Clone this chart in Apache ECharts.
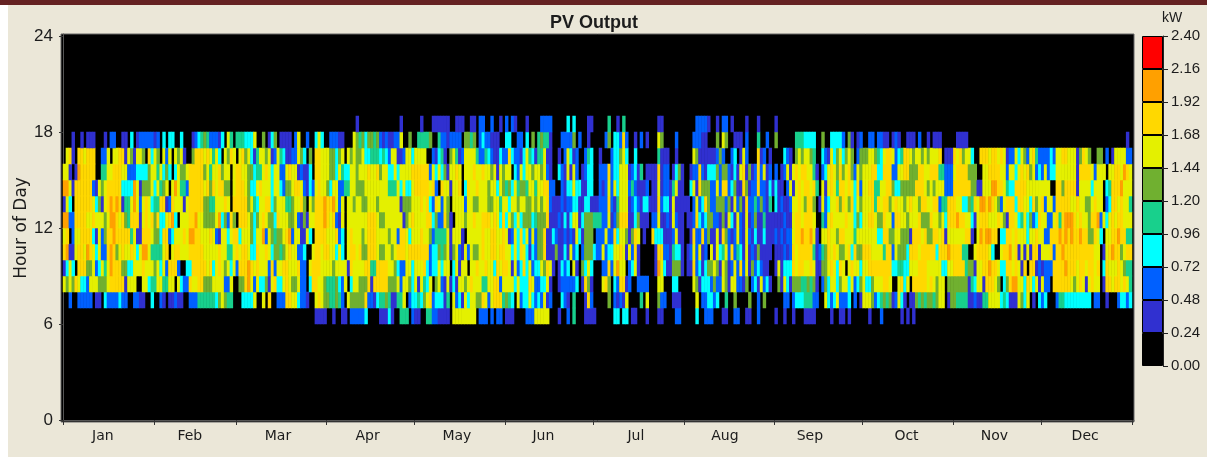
<!DOCTYPE html>
<html>
<head>
<meta charset="utf-8">
<title>PV Output</title>
<script src="https://cdn.jsdelivr.net/npm/echarts@6/dist/echarts.min.js"></script>
<style>
  html, body { margin: 0; padding: 0; background: #fff; }
  #main { width: 1207px; height: 457px; }
</style>
</head>
<body>
<div id="main"></div>
<script>
var months = ['Jan', 'Feb', 'Mar', 'Apr', 'May', 'Jun', 'Jul', 'Aug', 'Sep', 'Oct', 'Nov', 'Dec'];
var monthDays = [31, 28, 31, 30, 31, 30, 31, 31, 30, 31, 30, 31];
var monthTicks = [0, 31, 59, 90, 120, 151, 181, 212, 243, 273, 304, 334, 365];
var monthLabelDays = [13.6, 43.3, 73.4, 104, 134.5, 164, 195.6, 226, 255, 288, 318, 349];
var hourTicks = [0, 6, 12, 18, 24];
var binWidth = 0.24;
// legend bins, bottom to top
var binColors = ['#000000', '#3030d0', '#0060ff', '#00ffff', '#18d08c', '#70b030', '#e4f000', '#ffd800', '#ffa000', '#ff0000'];

// one list per hour of day, one string per month, each digit is the legend bin of one day
var hour18 = ['', '', '',
  '0000000000 1000000000 0000010000', '0010001111 1100111001 10220020010', '2021000100 0022220000 0303000011',
  '0000040010 4000000000 00110000000', '0000222210 0102201000 01000100000', '1000000000 0000000000 0000000000',
  '', '', ''];
var hour17 = ['0001001011 1000102200 11030122222', '1203033003 0001234542 22130640', '4443336005 0135011110 26002003630',
  '0222110006 5453554521 2112260050', '0444450042 2122220554 50232211100', '3300220305 0454410002 2225020010',
  '0000250332 7200102010 00650000200', '0002221100 0506500111 02000400200', '5000000444 3333005003 3332051012',
  '0022022110 1210011102 00101110000', '0111100000 0000000000 0000000000', '0000000000 0000000000 00000000010'];
var hour16 = ['0671077677 7002260667 71651665073', '6506260656 1005777676 46306576', '0675631466 5612643112 26530507766',
  '6553560656 5563344434 3266112663', '6666002134 1056412666 64224321132', '2732213643 1446110010 2631200243',
  '0010002335 6300300000 00411100100', '0006511111 1252002301 62000712010', '0003210565 6654003216 3563565025',
  '5566543677 6234776566 56566670111', '7675663007 7767767612 2636526742', '2223266776 6615765005 50201666622'];
var hour15 = ['6610187777 7004466777 66222333356', '6463530365 5677777564 66756606', '7766553446 7636622676 61211307766',
  '6553643366 5666766756 6336366667', '7777726363 5166760666 76676656165', '6603263665 6656210032 1616201233',
  '0022272336 6612314011 11712201351', '0012272133 3525521316 71512726120', '2012616767 7664102367 6575675265',
  '6667733777 2266775557 76677744222', '6777755500 6677776626 6367675623', '2623366666 6617777626 66066776876'];
var hour14 = ['8861777777 2165677777 33338615556', '3645606864 4277777675 76775506', '7776533676 6636632556 77621326766',
  '5366224466 5556666666 6444636336', '7777767207 6616670376 67666566365', '4536455466 4667722002 1336331133',
  '0021262636 6624211120 11612214611', '0036175552 2627723511 75122722131', '3110261676 7767406167 6477676372',
  '6677446677 5335555577 76565666222', '7777775511 6668877643 3777766666', '6660077577 7716666366 60347778666'];
var hour13 = ['1630777777 6351678787 14468626763', '4477127666 1677777554 46667607', '7777564366 7735666445 66750657778',
  '7786260665 6655666566 6666615556', '6676732762 6506666266 55666556646', '6366566556 5656721112 1223311331',
  '1122272146 6612321331 11723316111', '1102623752 2555251625 17224252140', '3121126676 5775016236 6757657365',
  '6667476775 6766567665 77667724477', '7663354768 8787652677 7377663756', '7266277777 6676655676 60237767664'];
var hour12 = ['8822777766 7666568876 75477716767', '5733678306 6677866555 56835275', '0777653567 6553766655 62151667778',
  '7672160666 6666777655 6666661567', '6666773522 7510666566 76677767637', '3653635553 4555711121 3136613555',
  '4442261257 7711351110 22611216211', '0112732355 2215163162 16125114111', '1112116776 7776004267 6666766353',
  '6677655766 2776656667 55576656377', '7877663167 7766676517 7634635237', '6622674788 8767665778 26367677666'];
var hour11 = ['6702667777 3162577877 77746117776', '5537723666 7688776667 62166367', '7366653668 2654556782 66116307777',
  '6667230676 6656777666 6566277636', '6676652444 4616661066 66676677667', '6126373626 2557113211 2121631555',
  '0222622736 6515760100 73331112611', '0017227251 1617521262 16213113111', '2121226778 7786106676 6577666466',
  '6666633775 5665551777 67557767166', '6666771068 7887703377 6766636676', '6227778787 8778775576 30667787744'];
var hour10 = ['7811677687 6362278756 76676368864', '4446706776 6677777666 66766446', '7677633766 7635545676 62230067767',
  '7663630677 6755777655 6656777677', '7777723354 5615621626 55676677677', '6636376313 2557111511 3162302555',
  '3226233667 6162710000 01772214331', '0126261206 1634627243 16121511110', '1112127677 7774124576 7655673755',
  '7776666477 2655537776 77777377787', '7774400677 7763006778 6716161771', '6667277877 7777777766 01678775677'];
var hour9 = ['1363077755 6236468777 55336667666', '5636277720 0337777767 36765636', '2777876766 6272667766 67220677766',
  '6656666176 6667744777 7665322663', '6667323363 6603616606 67667663767', '7616237362 3365761013 2306105363',
  '0002272686 6023610000 01863115551', '0117231355 6516512627 26152321100', '1613337677 6676115567 6376067663',
  '6677777777 3344336667 77666663366', '7777455166 7787763377 6761707712', '1222777787 7767767767 03766676544'];
var hour8 = ['6565763326 6655567777 71666006634', '4664466063 2276677555 66662260', '0557862633 5167336765 56220377665',
  '4445326036 6555717777 7555626653', '6164360562 1613166567 66644667726', '6663633376 2233610012 2222301751',
  '0006750327 7120022220 00660003300', '0006513332 5226516622 15023162310', '0516315554 4545102536 6356636235',
  '6335666776 0067360777 77676566055', '5555514366 1777650357 8866376361', '6220777777 6567616766 01776776764'];
var hour7 = ['0020022222 0110322223 22002211003', '0021011211 0022244444 43565440', '0033336006 0700222776 63221006765',
  '5445420655 5557221344 5411446023', '3435672333 1406231636 65576267774', '5430623363 2326120003 2104000172',
  '0000050212 1600004060 00522001110', '0000602233 2300400500 00500205000', '0002202333 4442200632 3622230201',
  '6665234545 1263101154 54554566015', '5444411211 4466663431 1165360103', '2300024433 3333333022 00100023323'];
var hour6 = ['', '', '0000000000 0000000000 00000001111',
  '0010011022 2223000011 1310044402', '1100442211 1106666666 60222020220', '1110000222 6666600010 0204000111',
  '1000000330 3301100010 00110000220', '0000300222 0001100220 01100200000', '1001001000 1111000001 0011010000',
  '0010002000 0001010100 00000000000', '', ''];

var hourRows = { 6: hour6, 7: hour7, 8: hour8, 9: hour9, 10: hour10, 11: hour11, 12: hour12, 13: hour13, 14: hour14, 15: hour15, 16: hour16, 17: hour17, 18: hour18 };

var cells = [];
Object.keys(hourRows).forEach(function (hour) {
    var day = 0;
    hourRows[hour].forEach(function (text, m) {
        var digits = text.replace(/ /g, '');
        for (var d = 0; d < monthDays[m]; d++) {
            var bin = Number(digits.charAt(d) || 0);
            if (bin > 0) {
                cells.push([day + d, Number(hour), (bin + 0.5) * binWidth]);
            }
        }
        day += monthDays[m];
    });
});

var dayNames = [];
for (var i = 0; i < 365; i++) dayNames.push(String(i));
var hourNames = [];
for (var j = 0; j < 24; j++) hourNames.push(String(j));

var pieces = binColors.map(function (c, i) {
    return { gte: i * binWidth, lt: (i + 1) * binWidth, color: c };
});

var textColor = '#1c1c1c';
var series = [{
    type: 'heatmap',
    xAxisIndex: 1,
    yAxisIndex: 1,
    data: cells,
    progressive: 0,
    emphasis: { disabled: true }
}];
// colour bar, one stacked block per legend bin
binColors.forEach(function (c) {
    series.push({
        type: 'bar',
        xAxisIndex: 2,
        yAxisIndex: 2,
        stack: 'legend',
        barWidth: '100%',
        data: [binWidth],
        itemStyle: { color: c, borderColor: '#000', borderWidth: 1 },
        silent: true
    });
});

var myChart = echarts.init(document.getElementById('main'), null, { renderer: 'canvas' });
myChart.setOption({
    animation: false,
    backgroundColor: '#ffffff',
    graphic: [
        { type: 'rect', z: -2, silent: true, shape: { x: 8, y: 5, width: 1199, height: 452 }, style: { fill: '#ebe7d8' } },
        { type: 'rect', z: -1, silent: true, shape: { x: 0, y: 0, width: 1207, height: 5 }, style: { fill: '#652222' } }
    ],
    title: [
        { text: 'PV Output', left: 589, top: 9, textAlign: 'center', textStyle: { fontFamily: 'Liberation Sans', fontSize: 18, fontWeight: 'bold', color: textColor } },
        { text: 'kW', left: 1167, top: 6, textAlign: 'center', textStyle: { fontFamily: 'Liberation Sans', fontSize: 14, fontWeight: 'normal', color: textColor } }
    ],
    grid: [
        { left: 61, top: 34, width: 1073, height: 388, show: true, backgroundColor: '#000', borderColor: '#666', borderWidth: 1, outerBoundsMode: 'none' },
        { left: 63, top: 36, width: 1069, height: 384, outerBoundsMode: 'none' },
        { left: 1142, top: 36, width: 21, height: 330, outerBoundsMode: 'none' }
    ],
    xAxis: [
        {
            gridIndex: 0, type: 'value', min: -0.68, max: 365.68,
            splitLine: { show: false },
            axisLine: { lineStyle: { color: '#555' } },
            axisTick: { length: 5, lineStyle: { color: '#333' }, customValues: monthTicks },
            axisLabel: {
                customValues: monthLabelDays,
                margin: 7,
                fontFamily: 'DejaVu Sans',
                fontSize: 14,
                color: textColor,
                formatter: function (v) { return months[monthLabelDays.indexOf(v)]; }
            }
        },
        { gridIndex: 1, type: 'category', data: dayNames, show: false },
        { gridIndex: 2, type: 'category', data: [''], show: false }
    ],
    yAxis: [
        {
            gridIndex: 0, type: 'value', min: -0.125, max: 24.125,
            name: 'Hour of Day', nameLocation: 'middle', nameGap: 31, nameMoveOverlap: false,
            nameTextStyle: { fontFamily: 'DejaVu Sans', fontSize: 17, color: textColor },
            splitLine: { show: false },
            axisLine: { lineStyle: { color: '#555' } },
            axisTick: { length: 4, lineStyle: { color: '#333' }, customValues: hourTicks },
            axisLabel: {
                customValues: hourTicks,
                margin: 8,
                fontFamily: 'Liberation Sans',
                fontSize: 17,
                color: textColor
            }
        },
        { gridIndex: 1, type: 'category', data: hourNames, show: false },
        {
            gridIndex: 2, type: 'value', position: 'right', min: 0, max: 2.4, interval: binWidth,
            splitLine: { show: false },
            axisLine: { show: true, lineStyle: { color: '#222' } },
            axisTick: { show: true, length: 5, lineStyle: { color: '#222' } },
            axisLabel: {
                margin: 8,
                fontFamily: 'Liberation Sans',
                fontSize: 15,
                color: textColor,
                formatter: function (v) { return v.toFixed(2); }
            }
        }
    ],
    visualMap: { type: 'piecewise', show: false, seriesIndex: 0, dimension: 2, pieces: pieces },
    series: series
});
</script>
</body>
</html>
